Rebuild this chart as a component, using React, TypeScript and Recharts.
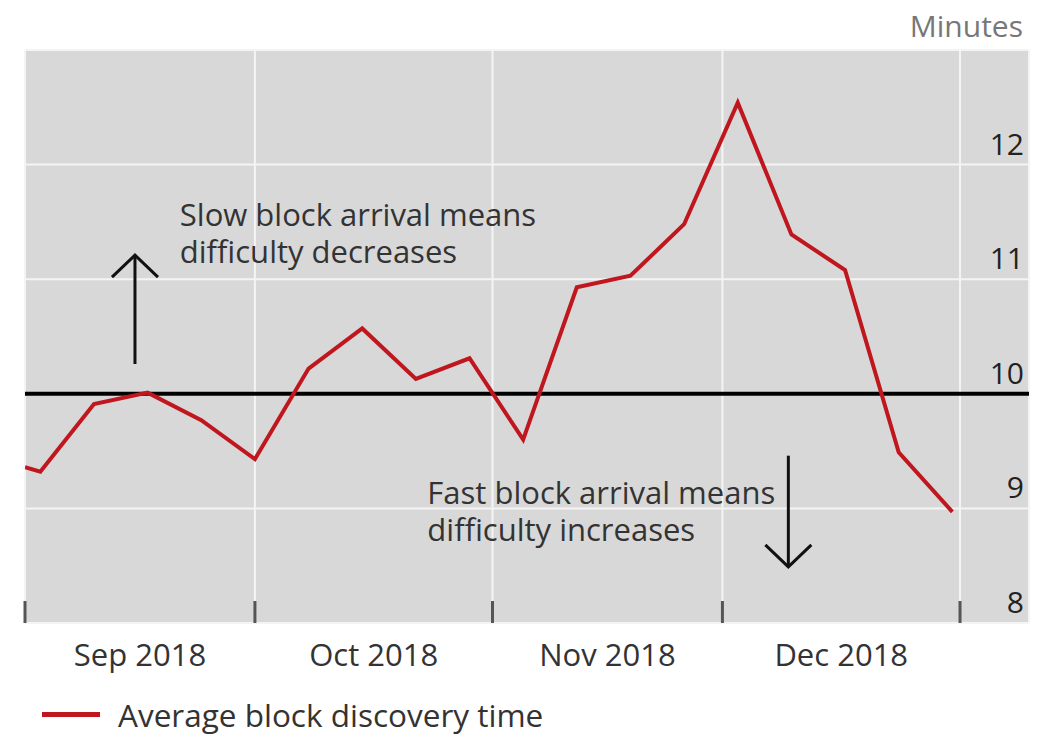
import React from 'react';
import { LineChart, Line, XAxis, YAxis, CartesianGrid, ReferenceLine, ReferenceDot, Legend, Label } from 'recharts';

// days since 1 Sep 2018, weekly readings
const days = [0, 2, 9, 16, 23, 30, 37, 44, 51, 58, 65, 72, 79, 86, 93, 100, 107, 114, 121];
const minutes = [9.36, 9.32, 9.91, 10.01, 9.77, 9.43, 10.22, 10.57, 10.13, 10.31, 9.6, 10.93, 11.03, 11.48, 12.54, 11.39, 11.08, 9.49, 8.97];

const monthStarts = [0, 30, 61, 91, 122];
const monthMids = [15, 45.5, 76, 106.5];
const monthLabels = ['Sep 2018', 'Oct 2018', 'Nov 2018', 'Dec 2018'];
const yTicks = [8, 9, 10, 11, 12];
const targetMinutes = 10;

const slowNote = ['Slow block arrival means', 'difficulty decreases'];
const fastNote = ['Fast block arrival means', 'difficulty increases'];

const data = days.map((d, i) => ({ day: d, value: minutes[i] }));

const RED = '#c0161e';
const FONT = '"Open Sans", sans-serif';

const YTick = (props: any) => {
  const { x, y, payload } = props;
  return (
    <text x={x} y={y - 10} textAnchor="end" fill="#222" fontSize={30} fontFamily={FONT}>
      {payload.value}
    </text>
  );
};

const MonthTick = (props: any) => {
  const { x, y, payload } = props;
  const idx = monthMids.indexOf(payload.value);
  return (
    <text x={x} y={y} dy={35} textAnchor="middle" fill="#333" fontSize={31} fontFamily={FONT}>
      {monthLabels[idx]}
    </text>
  );
};

const NoTick = () => <g />;

const Note = (lines: string[]) => (props: any) => (
  <text x={props.cx} y={props.cy} fill="#333" fontSize={31} fontFamily={FONT}>
    {lines.map((l, i) => (
      <tspan key={i} x={props.cx} dy={i === 0 ? 0 : 37}>
        {l}
      </tspan>
    ))}
  </text>
);

const Arrow = (props: any) => {
  const { x1, y1, x2, y2 } = props;
  const dir = y2 < y1 ? 1 : -1;
  return (
    <g stroke="#111" strokeWidth={3} fill="none">
      <line x1={x1} y1={y1} x2={x2} y2={y2} />
      <polyline points={`${x2 - 23},${y2 + dir * 22} ${x2},${y2} ${x2 + 23},${y2 + dir * 22}`} />
    </g>
  );
};

const LegendContent = () => (
  <div style={{ height: 45, display: 'flex', alignItems: 'center', paddingLeft: 17, fontFamily: FONT }}>
    <span style={{ display: 'inline-block', width: 58, height: 5, background: RED, marginRight: 18 }} />
    <span style={{ fontSize: 31.5, color: '#333' }}>Average block discovery time</span>
  </div>
);

export default function App() {
  return (
    <div style={{ position: 'absolute', left: 0, top: 0, background: '#fff' }}>
      <LineChart width={1042} height={737} data={data} margin={{ top: 50, right: 13, left: 25, bottom: 0 }}>
        <CartesianGrid stroke="#f4f4f4" strokeWidth={2} fill="#d8d8d8" fillOpacity={1} />
        <XAxis
          dataKey="day"
          type="number"
          domain={[0, 131]}
          allowDataOverflow
          ticks={monthStarts}
          interval={0}
          height={1}
          mirror
          tickSize={22}
          tick={<NoTick />}
          axisLine={false}
          tickLine={{ stroke: '#555', strokeWidth: 3 }}
        />
        <XAxis
          xAxisId="months"
          dataKey="day"
          type="number"
          domain={[0, 131]}
          allowDataOverflow
          ticks={monthMids}
          interval={0}
          height={69}
          tickLine={false}
          axisLine={false}
          tick={<MonthTick />}
        />
        <YAxis
          orientation="right"
          domain={[8, 13]}
          ticks={yTicks}
          interval={0}
          width={1}
          mirror
          tickSize={0}
          tickMargin={5}
          axisLine={false}
          tickLine={false}
          tick={<YTick />}
        >
          <Label
            content={(p: any) => (
              <text x={p.viewBox.x - 5} y={p.viewBox.y - 13} textAnchor="end" fill="#777" fontSize={30} fontFamily={FONT}>
                Minutes
              </text>
            )}
          />
        </YAxis>
        <ReferenceLine y={targetMinutes} stroke="#000" strokeWidth={4} />
        <ReferenceLine segment={[{ x: 14.35, y: 10.26 }, { x: 14.35, y: 11.21 }]} shape={<Arrow />} />
        <ReferenceLine segment={[{ x: 99.6, y: 9.46 }, { x: 99.6, y: 8.49 }]} shape={<Arrow />} />
        <ReferenceDot x={20.2} y={11.46} r={0} shape={Note(slowNote)} />
        <ReferenceDot x={52.5} y={9.04} r={0} shape={Note(fastNote)} />
        <Line dataKey="value" stroke={RED} strokeWidth={4} dot={false} isAnimationActive={false} strokeLinejoin="miter" />
        <Legend verticalAlign="bottom" align="left" content={<LegendContent />} />
      </LineChart>
    </div>
  );
}
